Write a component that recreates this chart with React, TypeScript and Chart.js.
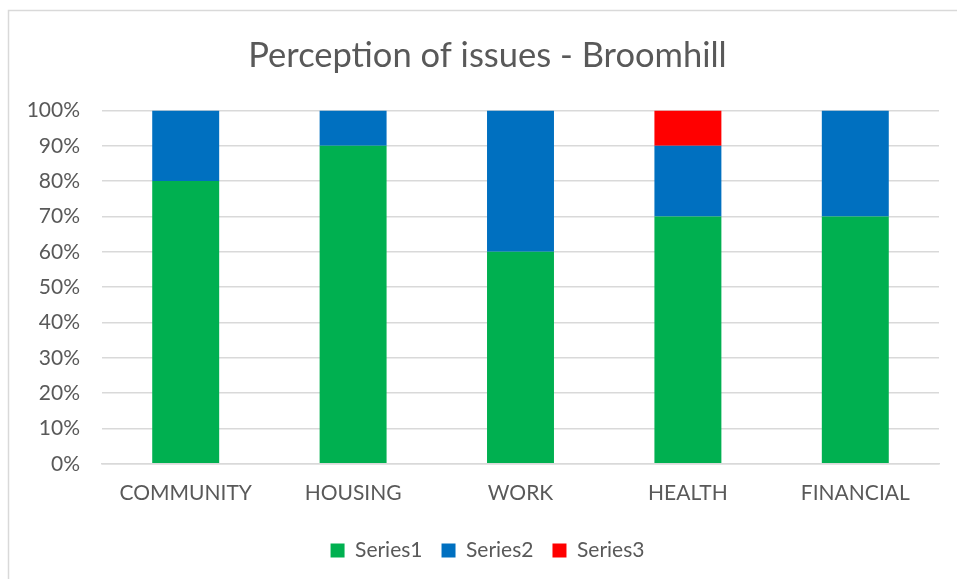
import React, { useEffect, useRef } from "react";
import { Chart, registerables } from "chart.js";

Chart.register(...registerables);

const categories = ["COMMUNITY", "HOUSING", "WORK", "HEALTH", "FINANCIAL"];
const series1 = [80, 90, 60, 70, 70];
const series2 = [20, 10, 40, 20, 30];
const series3 = [0, 0, 0, 10, 0];
const seriesNames = ["Series1", "Series2", "Series3"];
const seriesColors = ["#00B050", "#0070C0", "#FF0000"];
const titleText = "Perception of issues - Broomhill";

const FONT = "Lato, 'Open Sans', sans-serif";
const TEXT = "#595959";
const GRID = "#d9d9d9";

const frame = {
  id: "frame",
  beforeDraw(chart: any) {
    const ctx = chart.ctx;
    ctx.save();
    ctx.fillStyle = "#ffffff";
    ctx.fillRect(0, 0, chart.width, chart.height);
    ctx.strokeStyle = "#d9d9d9";
    ctx.lineWidth = 1.5;
    ctx.beginPath();
    ctx.moveTo(8.5, chart.height + 2);
    ctx.lineTo(8.5, 10.5);
    ctx.lineTo(chart.width + 2, 10.5);
    ctx.stroke();
    ctx.restore();
  },
};

export default function App() {
  const ref = useRef<HTMLCanvasElement>(null);
  useEffect(() => {
    const data = [series1, series2, series3];
    const chart = new Chart(ref.current as HTMLCanvasElement, {
      type: "bar",
      data: {
        labels: categories,
        datasets: data.map((d, i) => ({
          label: seriesNames[i],
          data: d,
          backgroundColor: seriesColors[i],
          borderWidth: 0,
          barPercentage: 0.4,
          categoryPercentage: 1,
        })),
      },
      options: {
        responsive: false,
        animation: false,
        devicePixelRatio: 1,
        layout: { padding: { left: 36, right: 18, top: 0, bottom: 8 } },
        plugins: {
          title: {
            display: true,
            text: titleText,
            color: TEXT,
            font: { family: FONT, size: 34.5, weight: "normal" },
            padding: { top: 35, bottom: 34 },
          },
          legend: {
            position: "bottom",
            labels: {
              color: TEXT,
              font: { family: FONT, size: 21 },
              boxWidth: 14,
              boxHeight: 14,
              padding: 19,
            },
          },
          tooltip: { enabled: false },
        },
        scales: {
          x: {
            stacked: true,
            afterFit(scale: any) {
              scale.height -= 2;
            },
            grid: { display: false, drawTicks: false },
            border: { color: GRID, width: 1.5 },
            ticks: { color: TEXT, font: { family: FONT, size: 21 }, padding: 17 },
          },
          y: {
            stacked: true,
            min: 0,
            max: 100,
            afterFit(scale: any) {
              scale.width = 66;
              // let tick labels extend left of the scale box without clipping
              scale._computeLabelArea = () => undefined;
            },
            grid: { color: GRID, lineWidth: 1.5, drawTicks: false },
            border: { display: false },
            ticks: {
              stepSize: 10,
              color: TEXT,
              font: { family: FONT, size: 21 },
              padding: 22,
              callback: (v: any) => v + "%",
            },
          },
        },
      },
      plugins: [frame],
    });
    return () => chart.destroy();
  }, []);
  return (
    <div style={{ position: "absolute", left: 0, top: 0, width: 957, height: 579 }}>
      <canvas ref={ref} width={957} height={579} style={{ display: "block" }} />
    </div>
  );
}
